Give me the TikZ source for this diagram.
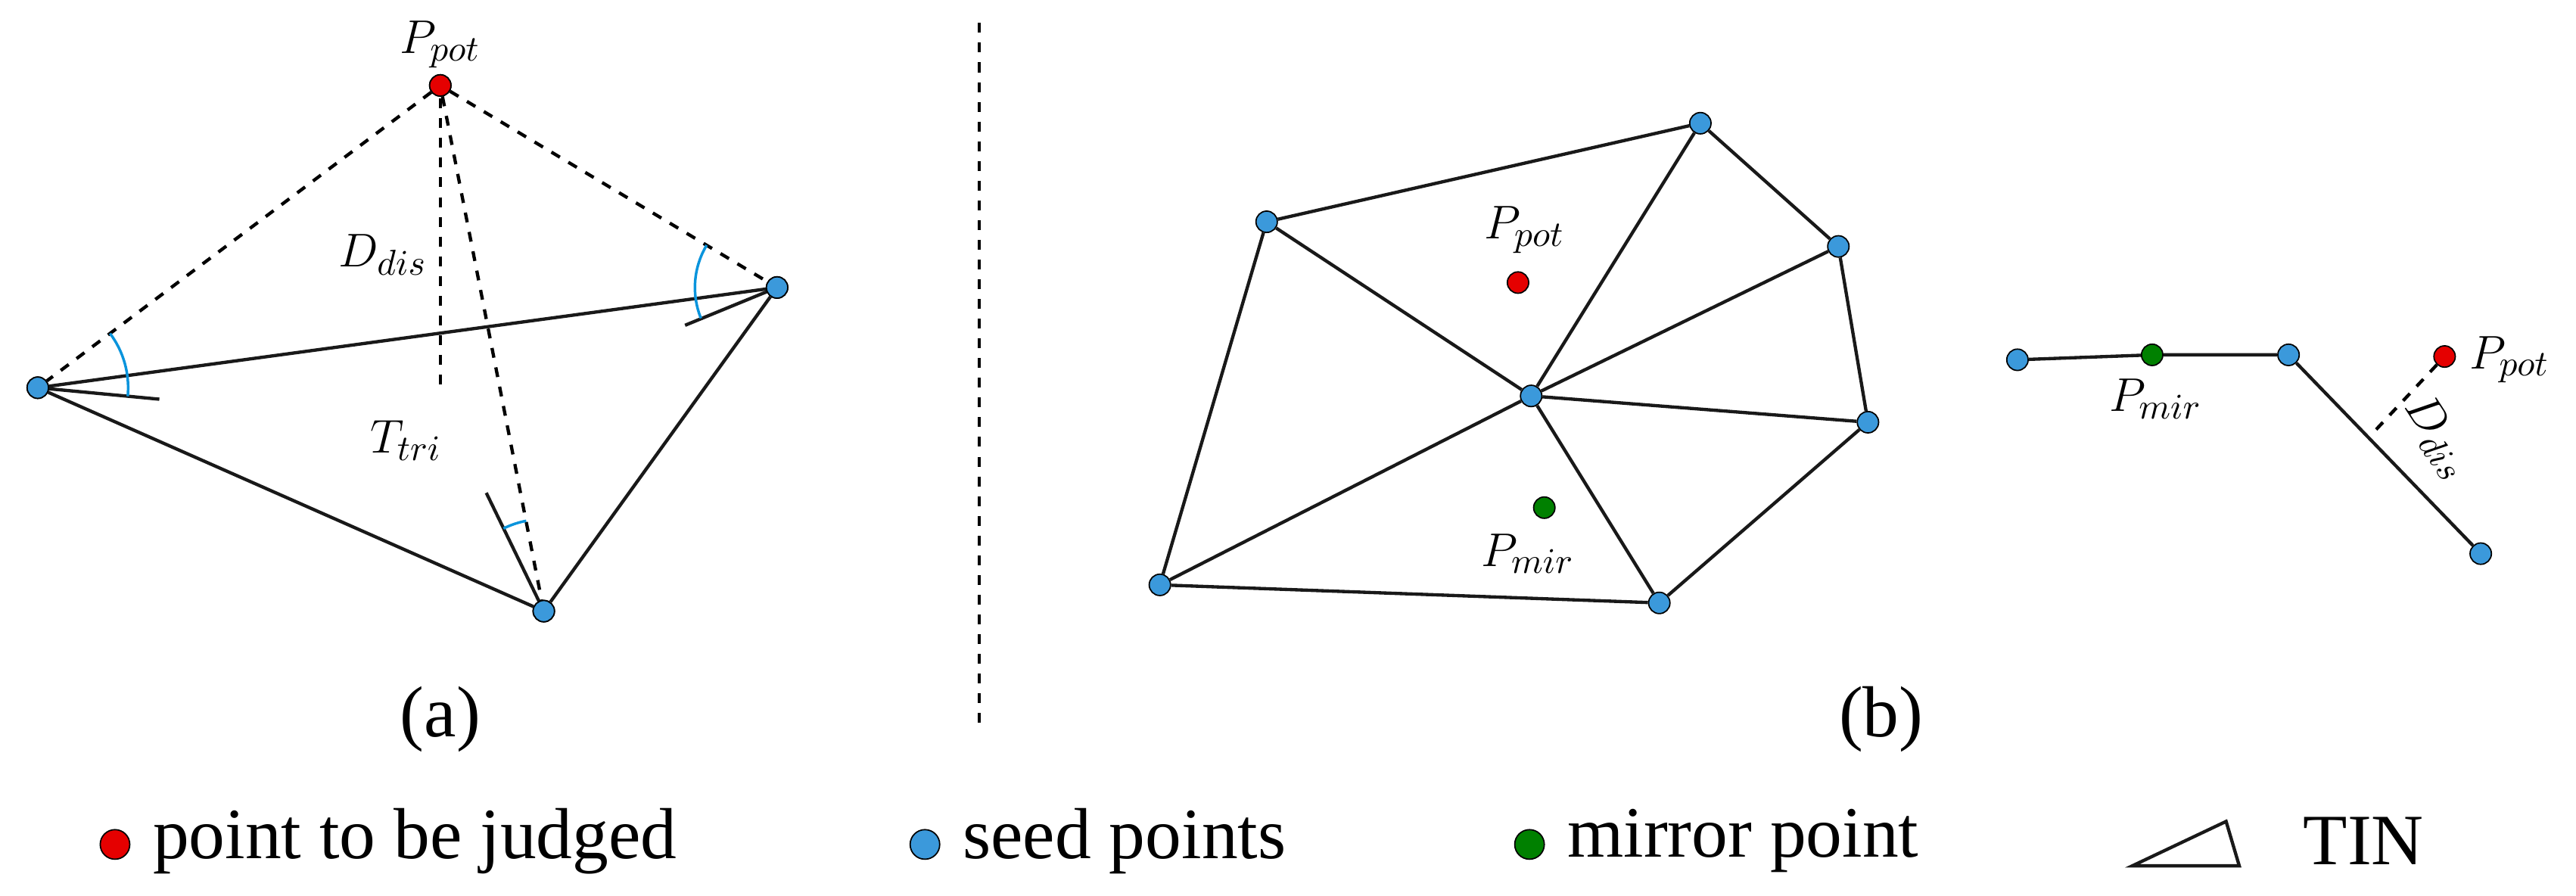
\documentclass[tikz,border=0pt]{standalone}
\usepackage{fontspec}
\setmainfont{Liberation Serif}
\begin{document}
\begin{tikzpicture}[x=0.5pt,y=-0.5pt,
  seed/.style={circle,draw=black,line width=0.4pt,fill=cyan!70!blue!80,minimum size=6.5pt,inner sep=0pt},
  pred/.style={circle,draw=black,line width=0.4pt,fill=red!90!black,minimum size=6.5pt,inner sep=0pt},
  mir/.style={circle,draw=black,line width=0.4pt,fill=green!50!black,minimum size=6.5pt,inner sep=0pt},
  kdot/.style={minimum size=9pt},
  edge/.style={line width=1pt,draw=black!90},
  dsh/.style={line width=1pt,dash pattern=on 3pt off 3pt},
  ang/.style={draw=cyan!80!blue,line width=0.8pt},
  lab/.style={font=\fontsize{15}{17}\selectfont},
  big/.style={font=\fontsize{22}{26}\selectfont}]
\useasboundingbox (0,0) rectangle (1568,545);
% (a)
\node[pred] (P) at (268,52) {};
\node[seed] (L) at (23,236) {};
\node[seed] (R) at (473,175) {};
\node[seed] (B) at (331,372) {};
\coordinate (V1) at (268,60); \coordinate (V2) at (268,236);
\coordinate (SL) at (97,243); \coordinate (SR) at (417,198); \coordinate (SB) at (296,300);
\draw[edge] (L) -- (R) -- (B) -- (L);
\draw[edge] (L.center) -- (SL); \draw[edge] (R.center) -- (SR); \draw[edge] (B.center) -- (SB);
\draw[dsh] (P) -- (L); \draw[dsh] (P) -- (R); \draw[dsh] (P) -- (B); \draw[dsh] (V1) -- (V2);
\draw[ang] (L.center) ++(36.9:27.5pt) arc[start angle=36.9,end angle=-5.4,radius=27.5pt];
\draw[ang] (R.center) ++(149:25pt) arc[start angle=149,end angle=202,radius=25pt];
\draw[ang] (B.center) ++(101:28pt) arc[start angle=101,end angle=116,radius=28pt];
\node[seed] at (L) {}; \node[seed] at (R) {}; \node[seed] at (B) {}; \node[pred] at (P) {};
\node[lab] (lp) at (268,27) {$P_{pot}$};
\node[lab] (ld) at (233,155) {$D_{dis}$};
\node[lab] (lt) at (247,268) {$T_{tri}$};
\node[big] (la) at (268,438) {(a)};
\coordinate (d1) at (596,14); \coordinate (d2) at (596,445);
\draw[dsh,line width=0.9pt] (d1) -- (d2);
% (b) TIN
\node[seed] (A) at (771,135) {};
\node[seed] (Bn) at (1035,75) {};
\node[seed] (C) at (1119,150) {};
\node[seed] (D) at (1137,257) {};
\node[seed] (E) at (1010,367) {};
\node[seed] (F) at (706,356) {};
\node[seed] (O) at (932,241) {};
\draw[edge] (A) -- (Bn) -- (C) -- (D) -- (E) -- (F) -- (A);
\foreach \n in {A,Bn,C,D,E,F} \draw[edge] (O) -- (\n);
\node[pred] (P2) at (924,172) {};
\node[mir] (M2) at (940,309) {};
\node[lab] at (928,140) {$P_{pot}$};
\node[lab] at (930,337) {$P_{mir}$};
\node[big] at (1145,438) {(b)};
% line
\node[seed] (q1) at (1228,219) {};
\node[mir] (q2) at (1310,216) {};
\node[seed] (q3) at (1393,216) {};
\node[seed] (q4) at (1510,337) {};
\draw[edge] (q1) -- (q2) -- (q3) -- (q4);
\node[pred] (P3) at (1488,217) {};
\coordinate (F3) at (1443,265);
\draw[dsh] (P3) -- (F3);
\node[lab] at (1312,243) {$P_{mir}$};
\node[lab,anchor=west] at (1496,219) {$P_{pot}$};
\node[lab,rotate=-57] at (1484,266) {$D_{dis}$};
% legend
\node[pred,kdot] (k1) at (70,514) {};
\node[big,anchor=west] at (86,512) {point to be judged};
\node[seed,kdot] (k2) at (563,514) {};
\node[big,anchor=west] at (579,512) {seed points};
\node[mir,kdot] (k3) at (931,514) {};
\node[big,anchor=west] at (947,512) {mirror point};
\coordinate (t1) at (1298,527); \coordinate (t2) at (1355,500); \coordinate (t3) at (1363,527);
\draw[edge] (t1) -- (t2) -- (t3) -- cycle;
\node[big,anchor=west] at (1395,512) {TIN};
\end{tikzpicture}
\end{document}
